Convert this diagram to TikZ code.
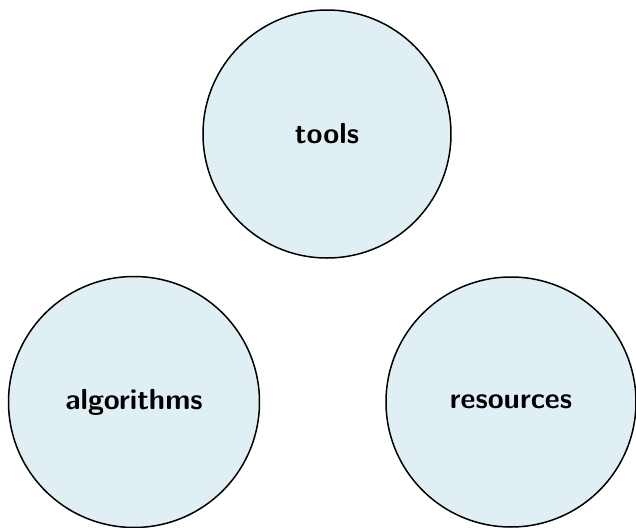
\documentclass[tikz,border=0pt]{standalone}
\definecolor{bubblefill}{RGB}{223,239,244}
\begin{document}
\begin{tikzpicture}[x=0.4pt,y=-0.4pt,
  bubble/.style={circle,draw=black,line width=0.6pt,fill=bubblefill,
    minimum size=248*0.4pt,inner sep=0pt,
    font=\sffamily\bfseries\fontsize{11.6}{14}\selectfont}]
  \useasboundingbox (0,0) rectangle (636,528);
  \node[bubble] (tools) at (327,134) {tools};
  \node[bubble,minimum size=251*0.4pt] (algorithms) at (134,402) {algorithms};
  \node[bubble,minimum size=250*0.4pt] (resources) at (511,402) {resources};
\end{tikzpicture}
\end{document}
